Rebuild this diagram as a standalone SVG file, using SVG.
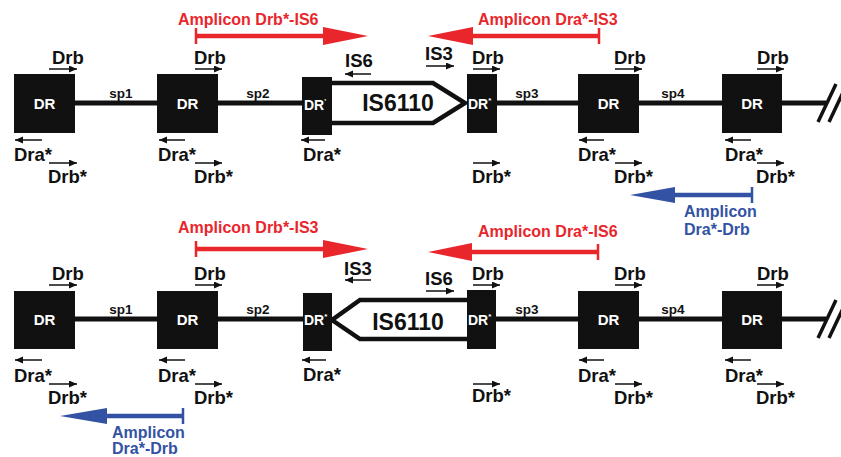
<svg xmlns="http://www.w3.org/2000/svg" width="841" height="457" viewBox="0 0 841 457">
<defs>
<marker id="ah" markerUnits="userSpaceOnUse" markerWidth="9" markerHeight="8" refX="8" refY="3.5" orient="auto">
<path d="M0,0 L8,3.5 L0,7 z" fill="#111"/>
</marker>
<style>
.box{fill:#111}
.dr{fill:#fff;font-family:"Liberation Sans",Arial,sans-serif;font-weight:bold;font-size:15px;text-anchor:middle}
.drs{fill:#fff;font-family:"Liberation Sans",Arial,sans-serif;font-weight:bold;font-size:14px}
.lbl{fill:#111;font-family:"Liberation Sans",Arial,sans-serif;font-weight:bold;font-size:18.5px}
.sp{fill:#111;font-family:"Liberation Sans",Arial,sans-serif;font-weight:bold;font-size:13.5px;text-anchor:middle}
.is{fill:#111;font-family:"Liberation Sans",Arial,sans-serif;font-weight:bold;font-size:23px;text-anchor:middle}
.sa{stroke:#111;stroke-width:1.5;fill:none;marker-end:url(#ah)}
.main{stroke:#111;stroke-width:5;fill:none}
.ins{stroke:#111;stroke-width:4.5;fill:#fff;stroke-linejoin:miter}
.brk{stroke:#111;stroke-width:3.5}
.red{fill:#e8262b;font-family:"Liberation Sans",Arial,sans-serif;font-weight:bold;font-size:16px}
.blue{fill:#3352a4;font-family:"Liberation Sans",Arial,sans-serif;font-weight:bold;font-size:16px}
.rl{stroke:#e8262b;stroke-width:4.5;fill:none}
.rt{stroke:#e8262b;stroke-width:2.5}
.bl{stroke:#3352a4;stroke-width:4.5;fill:none}
.bt{stroke:#3352a4;stroke-width:2.5}
</style>
</defs>

<g id="connectors">
<!-- top row backbone -->
<line class="main" x1="75" y1="103" x2="302" y2="103"/>
<line class="main" x1="497" y1="103" x2="826" y2="103"/>
<line class="brk" x1="818" y1="122" x2="836" y2="84"/>
<line class="brk" x1="829" y1="122" x2="847" y2="84"/>
<!-- bottom row backbone -->
<line class="main" x1="75" y1="319" x2="303" y2="319"/>
<line class="main" x1="496" y1="319" x2="826" y2="319"/>
<line class="brk" x1="818" y1="338" x2="836" y2="300"/>
<line class="brk" x1="829" y1="338" x2="847" y2="300"/>
</g>

<!-- TOP ROW -->
<g id="top-is6110">
<path class="ins" d="M320,83 L433,83 L465,103 L433,123 L320,123"/>
<text class="is" x="398" y="111">IS6110</text>
</g>
<g id="top-dr1">
<rect class="box" x="14" y="74" width="61" height="59"/>
<text class="dr" x="44.5" y="109">DR</text>
</g>
<g id="top-dr2">
<rect class="box" x="157" y="74" width="61" height="59"/>
<text class="dr" x="187.5" y="109">DR</text>
</g>
<g id="top-dr3">
<rect class="box" x="302" y="77" width="30" height="58"/>
<text class="drs" x="304" y="110">DR<tspan font-size="8" dy="-6">'</tspan></text>
</g>
<g id="top-dr4">
<rect class="box" x="467" y="74" width="30" height="59"/>
<text class="drs" x="468" y="109">DR<tspan font-size="8" dy="-6">*</tspan></text>
</g>
<g id="top-dr5">
<rect class="box" x="578" y="74" width="61" height="59"/>
<text class="dr" x="608.5" y="109">DR</text>
</g>
<g id="top-dr6">
<rect class="box" x="722" y="74" width="60" height="59"/>
<text class="dr" x="752" y="109">DR</text>
</g>
<g id="top-sp">
<text class="sp" x="121" y="98">sp1</text>
<text class="sp" x="258" y="98">sp2</text>
<text class="sp" x="527" y="98">sp3</text>
<text class="sp" x="673" y="98">sp4</text>
</g>
<g id="top-primers">
<text class="lbl" x="52" y="64">Drb</text><line class="sa" x1="49" y1="69" x2="77" y2="69"/>
<text class="lbl" x="194" y="64">Drb</text><line class="sa" x1="195" y1="69" x2="222" y2="69"/>
<text class="lbl" x="472" y="64">Drb</text><line class="sa" x1="473" y1="69" x2="500" y2="69"/>
<text class="lbl" x="614" y="64">Drb</text><line class="sa" x1="615" y1="69" x2="642" y2="69"/>
<text class="lbl" x="757" y="64">Drb</text><line class="sa" x1="757" y1="69" x2="784" y2="69"/>

<line class="sa" x1="42" y1="140" x2="15" y2="140"/><text class="lbl" x="14" y="161">Dra*</text>
<line class="sa" x1="185" y1="140" x2="159" y2="140"/><text class="lbl" x="158" y="161">Dra*</text>
<line class="sa" x1="325" y1="140" x2="301" y2="140"/><text class="lbl" x="303" y="161">Dra*</text>
<line class="sa" x1="604" y1="140" x2="579" y2="140"/><text class="lbl" x="578" y="161">Dra*</text>
<line class="sa" x1="751" y1="140" x2="725" y2="140"/><text class="lbl" x="725" y="161">Dra*</text>

<line class="sa" x1="49" y1="163" x2="77" y2="163"/><text class="lbl" x="48" y="183">Drb*</text>
<line class="sa" x1="195" y1="163" x2="222" y2="163"/><text class="lbl" x="194" y="183">Drb*</text>
<line class="sa" x1="473" y1="163" x2="500" y2="163"/><text class="lbl" x="472" y="183">Drb*</text>
<line class="sa" x1="615" y1="163" x2="642" y2="163"/><text class="lbl" x="614" y="183">Drb*</text>
<line class="sa" x1="757" y1="163" x2="784" y2="163"/><text class="lbl" x="756" y="183">Drb*</text>

<text class="lbl" x="345" y="67">IS6</text><line class="sa" x1="371" y1="74" x2="345" y2="74"/>
<text class="lbl" x="425" y="60">IS3</text><line class="sa" x1="426" y1="66" x2="454" y2="66"/>
</g>
<g id="top-amplicons">
<text class="red" x="178" y="25">Amplicon Drb*-IS6</text>
<line class="rt" x1="196" y1="28" x2="196" y2="44"/>
<line class="rl" x1="196" y1="36" x2="325" y2="36"/>
<polygon points="323,27 368,36 323,45" fill="#e8262b"/>
<text class="red" x="478" y="25">Amplicon Dra*-IS3</text>
<line class="rt" x1="599" y1="28" x2="599" y2="44"/>
<line class="rl" x1="599" y1="36" x2="471" y2="36"/>
<polygon points="473,27 428,36 473,45" fill="#e8262b"/>
<line class="bt" x1="752" y1="187" x2="752" y2="203"/>
<line class="bl" x1="752" y1="195" x2="673" y2="195"/>
<polygon points="675,187 630,195 675,203" fill="#3352a4"/>
<text class="blue" x="684" y="217">Amplicon</text>
<text class="blue" x="684" y="235">Dra*-Drb</text>
</g>

<!-- BOTTOM ROW -->
<g id="bot-is6110">
<path class="ins" d="M480,300 L360,300 L332,320 L360,339 L480,339"/>
<text class="is" x="408" y="330">IS6110</text>
</g>
<g id="bot-dr1">
<rect class="box" x="14" y="291" width="61" height="58"/>
<text class="dr" x="44.5" y="325">DR</text>
</g>
<g id="bot-dr2">
<rect class="box" x="157" y="291" width="61" height="58"/>
<text class="dr" x="187.5" y="325">DR</text>
</g>
<g id="bot-dr3">
<rect class="box" x="303" y="293" width="29" height="58"/>
<text class="drs" x="304" y="325">DR<tspan font-size="8" dy="-6">*</tspan></text>
</g>
<g id="bot-dr4">
<rect class="box" x="467" y="290" width="29" height="59"/>
<text class="drs" x="468" y="325">DR<tspan font-size="8" dy="-6">*</tspan></text>
</g>
<g id="bot-dr5">
<rect class="box" x="578" y="291" width="61" height="58"/>
<text class="dr" x="608.5" y="325">DR</text>
</g>
<g id="bot-dr6">
<rect class="box" x="722" y="291" width="60" height="58"/>
<text class="dr" x="752" y="325">DR</text>
</g>
<g id="bot-sp">
<text class="sp" x="121" y="314">sp1</text>
<text class="sp" x="258" y="314">sp2</text>
<text class="sp" x="527" y="314">sp3</text>
<text class="sp" x="673" y="314">sp4</text>
</g>
<g id="bot-primers">
<text class="lbl" x="52" y="280">Drb</text><line class="sa" x1="49" y1="285" x2="77" y2="285"/>
<text class="lbl" x="194" y="280">Drb</text><line class="sa" x1="195" y1="285" x2="222" y2="285"/>
<text class="lbl" x="472" y="280">Drb</text><line class="sa" x1="473" y1="285" x2="500" y2="285"/>
<text class="lbl" x="614" y="280">Drb</text><line class="sa" x1="615" y1="285" x2="642" y2="285"/>
<text class="lbl" x="757" y="280">Drb</text><line class="sa" x1="757" y1="285" x2="784" y2="285"/>

<line class="sa" x1="42" y1="360" x2="15" y2="360"/><text class="lbl" x="14" y="382">Dra*</text>
<line class="sa" x1="185" y1="360" x2="159" y2="360"/><text class="lbl" x="158" y="382">Dra*</text>
<line class="sa" x1="326" y1="360" x2="302" y2="360"/><text class="lbl" x="303" y="381">Dra*</text>
<line class="sa" x1="604" y1="360" x2="579" y2="360"/><text class="lbl" x="578" y="382">Dra*</text>
<line class="sa" x1="751" y1="360" x2="725" y2="360"/><text class="lbl" x="725" y="382">Dra*</text>

<line class="sa" x1="49" y1="384" x2="77" y2="384"/><text class="lbl" x="48" y="404">Drb*</text>
<line class="sa" x1="195" y1="384" x2="222" y2="384"/><text class="lbl" x="194" y="404">Drb*</text>
<line class="sa" x1="473" y1="384" x2="500" y2="384"/><text class="lbl" x="472" y="402">Drb*</text>
<line class="sa" x1="615" y1="384" x2="642" y2="384"/><text class="lbl" x="614" y="404">Drb*</text>
<line class="sa" x1="757" y1="384" x2="784" y2="384"/><text class="lbl" x="756" y="404">Drb*</text>

<text class="lbl" x="344" y="275">IS3</text><line class="sa" x1="371" y1="280" x2="345" y2="280"/>
<text class="lbl" x="425" y="285">IS6</text><line class="sa" x1="426" y1="291" x2="454" y2="291"/>
</g>
<g id="bot-amplicons">
<text class="red" x="178" y="233">Amplicon Drb*-IS3</text>
<line class="rt" x1="196" y1="241" x2="196" y2="257"/>
<line class="rl" x1="196" y1="249" x2="325" y2="249"/>
<polygon points="323,240 368,249 323,258" fill="#e8262b"/>
<text class="red" x="478" y="237">Amplicon Dra*-IS6</text>
<line class="rt" x1="598" y1="244" x2="598" y2="260"/>
<line class="rl" x1="598" y1="252" x2="470" y2="252"/>
<polygon points="472,243 428,252 472,261" fill="#e8262b"/>
<line class="bt" x1="183" y1="408" x2="183" y2="424"/>
<line class="bl" x1="183" y1="416" x2="105" y2="416"/>
<polygon points="107,408 60,416 107,424" fill="#3352a4"/>
<text class="blue" x="112" y="438">Amplicon</text>
<text class="blue" x="112" y="454">Dra*-Drb</text>
</g>
</svg>
